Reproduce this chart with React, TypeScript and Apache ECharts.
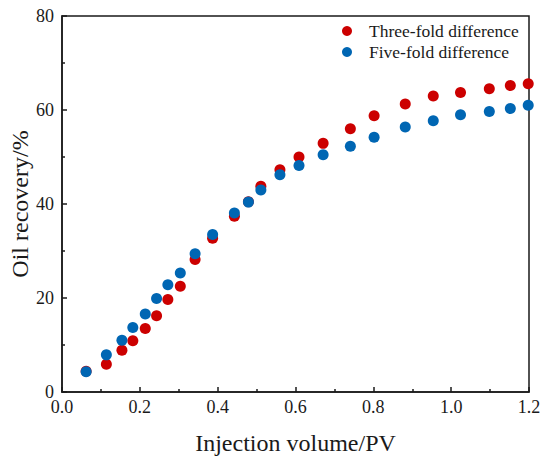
import React, { useEffect, useRef } from "react";
import * as echarts from "echarts";

const injectionPV = [0.062, 0.114, 0.154, 0.182, 0.214, 0.243, 0.272, 0.304, 0.342, 0.387, 0.443, 0.479, 0.511, 0.56, 0.609, 0.671, 0.741, 0.802, 0.882, 0.954, 1.024, 1.098, 1.152, 1.198];
const threeFold = [4.4, 5.9, 8.9, 10.9, 13.5, 16.2, 19.7, 22.5, 28.2, 32.7, 37.4, 40.5, 43.8, 47.3, 50.0, 52.9, 56.0, 58.8, 61.3, 63.0, 63.7, 64.5, 65.2, 65.6];
const fiveFold = [4.3, 7.9, 11.0, 13.7, 16.6, 19.9, 22.8, 25.3, 29.4, 33.5, 38.1, 40.4, 43.0, 46.2, 48.2, 50.5, 52.3, 54.2, 56.4, 57.7, 59.0, 59.7, 60.3, 61.0];
const seriesNames = ["Three-fold difference", "Five-fold difference"];

const FONT = "'Liberation Serif', 'Times New Roman', serif";

export default function App() {
  const ref = useRef<HTMLDivElement>(null);
  useEffect(() => {
    document.body.style.margin = "0";
    const chart = echarts.init(ref.current!, null, { renderer: "svg" });
    const axisLine = { show: true, lineStyle: { color: "#1a1a1a", width: 1.5 } };
    const tickStyle = { color: "#1a1a1a", width: 1.5 };
    chart.setOption({
      animation: false,
      backgroundColor: "#fff",
      grid: {
        left: 62, right: 21, top: 16, bottom: 73,
        containLabel: false, outerBoundsMode: "none",
        show: true, borderColor: "#1a1a1a", borderWidth: 1.5,
      },
      legend: {
        orient: "vertical",
        left: 342,
        top: 22,
        padding: 0,
        icon: "circle",
        itemWidth: 10,
        itemHeight: 10,
        itemGap: 3,
        textStyle: { fontFamily: FONT, fontSize: 17.5, color: "#1a1a1a", padding: [0, 0, 0, 12] },
        data: seriesNames,
      },
      xAxis: {
        type: "value",
        min: 0,
        max: 1.2,
        interval: 0.2,
        axisLine,
        axisTick: { show: true, inside: true, length: 5, lineStyle: tickStyle },
        minorTick: { show: true, splitNumber: 2, length: 3, lineStyle: tickStyle },
        splitLine: { show: false },
        axisLabel: { fontFamily: FONT, fontSize: 18, color: "#1a1a1a", margin: 6, formatter: (v: number) => v.toFixed(1) },
        name: "Injection volume/PV",
        nameLocation: "middle",
        nameGap: 39,
        nameMoveOverlap: false,
        nameTextStyle: { fontFamily: FONT, fontSize: 24, color: "#1a1a1a" },
      },
      yAxis: {
        type: "value",
        min: 0,
        max: 80,
        interval: 20,
        axisLine,
        axisTick: { show: true, inside: true, length: 5, lineStyle: tickStyle },
        minorTick: { show: true, splitNumber: 2, length: 3, lineStyle: tickStyle },
        splitLine: { show: false },
        axisLabel: { fontFamily: FONT, fontSize: 18, color: "#1a1a1a", margin: 8 },
        name: "Oil recovery/%",
        nameLocation: "middle",
        nameGap: 30,
        nameMoveOverlap: false,
        nameTextStyle: { fontFamily: FONT, fontSize: 24, color: "#1a1a1a" },
      },
      series: [
        {
          name: seriesNames[0],
          type: "scatter",
          symbolSize: 11,
          itemStyle: { color: "#cc0000", opacity: 1 },
          data: injectionPV.map((x, i) => [x, threeFold[i]]),
        },
        {
          name: seriesNames[1],
          type: "scatter",
          symbolSize: 11,
          itemStyle: { color: "#0066b3", opacity: 1 },
          data: injectionPV.map((x, i) => [x, fiveFold[i]]),
        },
      ],
    });
    return () => chart.dispose();
  }, []);
  return <div ref={ref} style={{ width: 550, height: 465 }} />;
}
